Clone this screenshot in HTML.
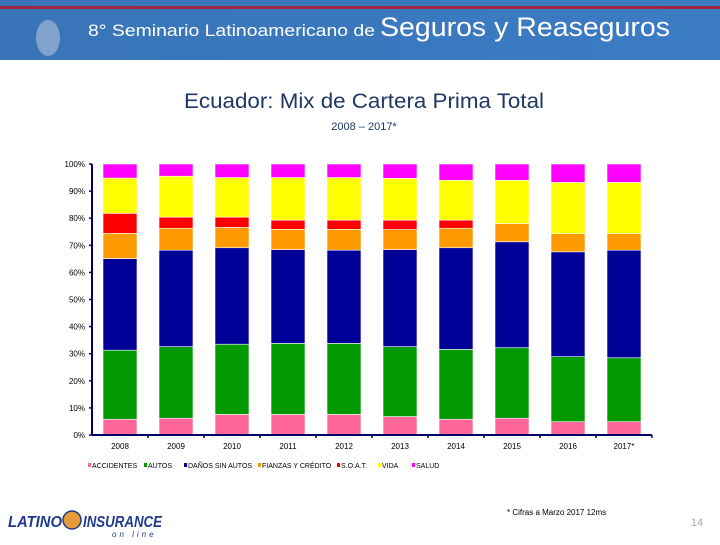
<!DOCTYPE html>
<html><head><meta charset="utf-8"><style>
body{margin:0;width:720px;height:540px;overflow:hidden;background:#fff;font-family:"Liberation Sans",sans-serif}
</style></head><body>
<svg width="720" height="540" xmlns="http://www.w3.org/2000/svg">
<defs><linearGradient id="bg" x1="0" x2="1"><stop offset="0" stop-color="#3a74b8"/><stop offset="1" stop-color="#3b7cc4"/></linearGradient></defs>
<g>
<rect x="0" y="0" width="720" height="60" fill="url(#bg)"/>
<rect x="0" y="6" width="720" height="3" fill="#a0283c"/>
<ellipse cx="48" cy="38" rx="12" ry="18" fill="#9fb7d3" opacity="0.7"/>
<text x="88" y="36" fill="#fff" font-size="17" textLength="287" lengthAdjust="spacingAndGlyphs">8° Seminario Latinoamericano de</text>
<text x="380" y="36" fill="#fff" font-size="27" textLength="290" lengthAdjust="spacingAndGlyphs">Seguros y Reaseguros</text>
</g>
<text x="364" y="108" text-anchor="middle" font-size="21" textLength="360" lengthAdjust="spacingAndGlyphs" fill="#1f3864">Ecuador: Mix de Cartera Prima Total</text>
<text x="364" y="130" text-anchor="middle" font-size="11" fill="#1f3864">2008 – 2017*</text>
<g id="chart"></g>
<text x="507" y="515" font-size="8" fill="#000">* Cifras a Marzo 2017 12ms</text>
<text x="697" y="526" font-size="11" fill="#aaa" text-anchor="middle">14</text>
<g>
<text x="8" y="527" font-size="16" font-weight="bold" font-style="italic" fill="#1f3a8f" textLength="54" lengthAdjust="spacingAndGlyphs">LATINO</text>
<circle cx="72" cy="520" r="9" fill="#e89a3a" stroke="#1f3a8f" stroke-width="1.5"/>
<text x="83" y="527" font-size="16" font-weight="bold" font-style="italic" fill="#1f3a8f" textLength="79" lengthAdjust="spacingAndGlyphs">INSURANCE</text>
<text x="112" y="537" font-size="8" font-style="italic" fill="#1f3a8f" letter-spacing="3">on line</text>
</g>
</svg>
<script>
const years=["2008","2009","2010","2011","2012","2013","2014","2015","2016","2017*"];
const seriesNames=["ACCIDENTES","AUTOS","DAÑOS SIN AUTOS","FIANZAS Y CRÉDITO","S.O.A.T.","VIDA","SALUD"];
const accidentes=[5.8,6.2,7.6,7.6,7.6,6.8,5.8,6.2,4.9,4.9];
const autos=[25.5,26.4,25.9,26.2,26.2,25.8,25.8,26.0,24.0,23.6];
const danos=[33.8,35.6,35.6,34.6,34.4,35.8,37.5,39.1,38.7,39.7];
const fianzas=[9.3,8.1,7.5,7.5,7.7,7.4,7.2,6.7,6.7,6.1];
const soat=[7.4,4.1,3.8,3.4,3.4,3.5,3.0,0,0,0];
const vida=[13.0,15.1,14.6,15.7,15.7,15.4,14.7,16.0,18.9,18.9];
const salud=[5.2,4.5,5.0,5.0,5.0,5.3,6.0,6.0,6.8,6.8];
const yTicks=[0,10,20,30,40,50,60,70,80,90,100];
const series=[accidentes,autos,danos,fianzas,soat,vida,salud];
const colors=["#ff6699","#009900","#000099","#ff9900","#ff0000","#ffff00","#ff00ff"];
const NS="http://www.w3.org/2000/svg";
const g=document.getElementById('chart');
const x0=92,x1=652,y0=435,y1=164;
const yS=v=>y0-(v/100)*(y0-y1);
const step=(x1-x0)/years.length;
const xC=i=>x0+step*(i+0.5);
function mk(t,a){const e=document.createElementNS(NS,t);for(const k in a)e.setAttribute(k,a[k]);g.appendChild(e);return e;}
years.forEach((yr,i)=>{
  const tot=series.reduce((s,a)=>s+a[i],0);let cum=0;
  series.forEach((arr,si)=>{
    const v=arr[i]/tot*100;if(v<=0)return;
    const r=mk('rect',{x:xC(i)-17,y:yS(cum+v),width:34,height:yS(cum)-yS(cum+v),fill:colors[si],stroke:'#fff','stroke-width':0.6});
    
    
    cum+=v;
  });
  const t=mk('text',{x:xC(i),y:449,'font-size':8,'text-anchor':'middle',fill:'#000'});t.textContent=yr;
  
  
  const tk=mk('line',{x1:x0+step*(i+1),x2:x0+step*(i+1),y1:y0,y2:y0+3,stroke:'#000066','stroke-width':1.5});
  
  
});
yTicks.forEach(v=>{
  const t=mk('text',{x:85,y:yS(v)+3,'font-size':8,'text-anchor':'end',fill:'#000'});t.textContent=v+'%';
  
  
  const l=mk('line',{x1:x0-3,x2:x0,y1:yS(v),y2:yS(v),stroke:'#000066','stroke-width':1.5});
  
  
});
const ya=mk('line',{x1:x0,x2:x0,y1:y1,y2:y0,stroke:'#000066','stroke-width':2});


const xa=mk('line',{x1:x0,x2:x1,y1:y0,y2:y0,stroke:'#000066','stroke-width':2});


const lx=[88,144,184,258,337,378,412];
seriesNames.forEach((n,i)=>{
  const m=mk('rect',{x:lx[i],y:463,width:3,height:4,fill:colors[i]});
  
  
  const t=mk('text',{x:lx[i]+4,y:468,'font-size':7,fill:'#000'});t.textContent=n;
  
  
});
</script>
</body></html>
